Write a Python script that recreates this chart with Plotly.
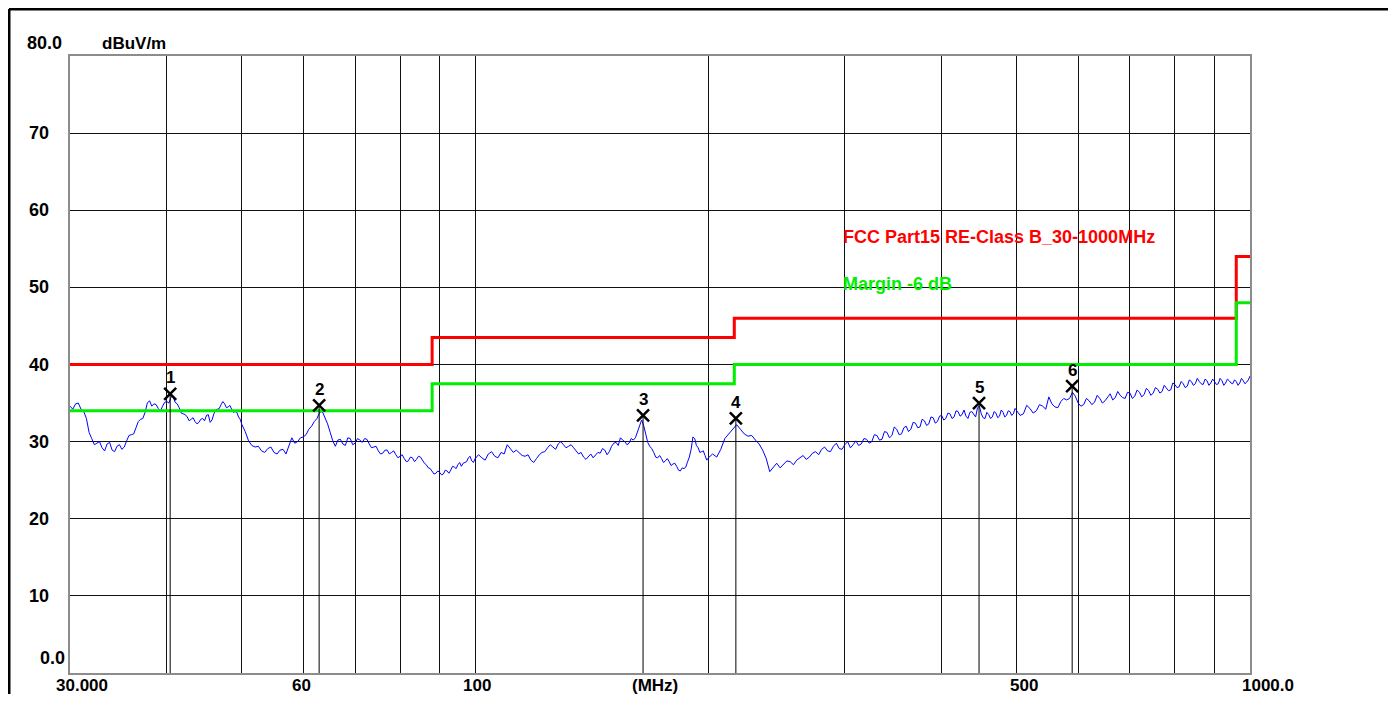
import math
import plotly.graph_objects as go

# ---------------- data ----------------
freq_mhz = [
    30.0, 30.5, 31.0, 31.5, 32.0, 32.5, 33.0, 33.5, 34.0, 34.5, 35.0, 35.5, 36.0, 36.5,
    37.0, 37.5, 38.0, 38.5, 39.0, 39.5, 40.0, 40.5, 41.0, 41.5, 42.0, 42.5, 43.0, 43.5,
    44.0, 44.5, 45.0, 45.5, 46.0, 46.5, 47.0, 47.5, 48.0, 48.5, 49.0, 49.5, 50.0,
    51, 52, 53, 54, 55, 56, 57, 58, 59, 60, 61, 62, 63, 64, 65, 66, 67, 68, 69, 70,
    71, 72, 73, 74, 75, 76, 77, 78, 79, 80, 81, 82, 83, 84, 85, 86, 87, 88, 89, 90,
    91, 92, 93, 94, 95, 96, 97, 98, 99, 100,
    102, 104, 106, 108, 110, 112, 114, 116, 118, 120, 122, 124, 126, 128, 130, 132,
    134, 136, 138, 140, 142, 144, 146, 148, 150, 152, 154, 156, 158, 160, 162, 164,
    166, 168, 170, 172, 174, 176, 178, 180, 182, 184, 186, 188, 190, 192, 194, 196,
    198, 200,
    205, 210, 215, 220, 225, 230, 235, 240, 245, 250, 255, 260, 265, 270, 275, 280,
    285, 290, 295, 300, 305, 310, 315, 320, 325, 330, 335, 340, 345, 350, 355, 360,
    365, 370, 375, 380, 385, 390, 395, 400, 405, 410, 415, 420, 425, 430, 435, 440,
    445, 450, 455, 460, 465, 470, 475, 480, 485, 490, 495, 500,
    510, 520, 530, 540, 550, 560, 570, 580, 590, 600, 610, 620, 630, 640, 650, 660,
    670, 680, 690, 700, 710, 720, 730, 740, 750, 760, 770, 780, 790, 800, 810, 820,
    830, 840, 850, 860, 870, 880, 890, 900, 910, 920, 930, 940, 950, 960, 970, 980,
    990, 1000,
]
level_dbuv = [
    34.6, 34.9, 34.2, 33.0, 30.4, 29.8, 29.2, 29.7, 28.9, 29.4, 29.0, 30.1, 30.9, 31.8,
    32.9, 33.8, 35.3, 34.9, 34.3, 34.6, 35.2, 35.8, 35.1, 34.4, 33.6, 33.2, 32.9, 32.6,
    32.5, 33.0, 33.4, 32.5, 33.6, 34.2, 34.8, 34.9, 34.5, 34.2, 33.9, 33.2, 32.2,
    30.1, 29.3, 28.8, 29.1, 28.6, 28.9, 28.4, 30.5, 30.0, 30.6, 31.6, 32.6, 33.8, 33.2,
    31.2, 29.4, 30.3, 29.5, 30.4, 29.8, 30.2, 30.4, 29.7, 29.3, 28.8, 28.5, 28.9, 28.6,
    28.3, 28.1, 27.8, 27.5, 27.9, 27.7, 28.0, 27.2, 26.6, 26.2, 25.9, 26.0, 25.8, 26.2,
    26.3, 26.7, 27.0, 26.8, 27.3, 27.9, 27.5, 27.8,
    27.9, 28.4, 28.1, 28.6, 29.6, 28.6, 28.5, 28.1, 27.6, 27.8, 28.6, 29.2, 29.3, 29.7,
    29.6, 29.4, 29.2, 28.4, 28.0, 28.1, 27.9, 28.6, 29.1, 28.3, 29.4, 29.9, 30.5, 30.0,
    29.8, 30.2, 31.2, 32.8, 31.0, 29.4, 28.6, 27.9, 27.8, 27.5, 27.4, 27.1, 26.8, 26.2,
    26.5, 27.4, 29.0, 30.4, 29.2, 28.7, 28.2, 27.9,
    28.0, 30.4, 31.6, 31.6, 30.7, 30.2, 28.9, 26.1, 27.2, 27.0, 27.4, 27.6, 28.2, 28.0,
    28.7, 29.0, 28.8, 29.4, 29.1, 29.6, 29.2, 30.1, 29.7, 30.3, 30.0, 30.8, 30.3, 31.2,
    30.8, 31.6, 31.0, 32.0, 31.6, 32.4, 31.9, 32.7, 32.3, 33.1, 32.6, 33.4, 33.0, 33.6,
    33.2, 33.9, 33.5, 33.3, 33.8, 33.5, 34.4, 33.6, 33.0, 33.5, 33.2, 33.7, 33.3, 33.8,
    33.4, 33.9, 33.6, 34.0,
    33.6, 34.3, 34.0, 34.6, 35.8, 34.5, 35.2, 35.4, 36.4, 35.0, 34.8, 35.3, 35.1, 35.6,
    35.3, 36.2, 35.7, 36.0, 35.6, 36.3, 35.9, 36.4, 36.1, 36.6, 36.3, 36.8, 36.5, 37.0,
    36.7, 37.4, 37.1, 37.5, 37.2, 37.8, 37.5, 37.8, 37.4, 37.9, 37.6, 37.8, 37.5, 37.9,
    37.6, 37.9, 37.5, 37.8, 37.6, 37.9, 37.7, 38.5,
]

# extra sweep samples read between the points above (noise detail)
freq_mid_mhz = [
    30.25, 30.75, 31.25, 31.75, 32.25, 32.75, 33.25, 33.75, 34.25, 34.75, 35.25, 35.75,
    36.25, 36.75, 37.25, 37.75, 38.25, 38.75, 39.25, 39.75, 40.25, 40.75, 41.25, 41.75,
    42.25, 42.75, 43.25, 43.75, 44.25, 44.75, 45.25, 45.75, 46.25, 46.75, 47.25, 47.75,
    48.25, 48.75, 49.25, 49.75,
    50.5, 51.5, 52.5, 53.5, 54.5, 55.5, 56.5, 57.5, 58.5, 59.5, 60.5, 61.5, 62.5, 63.5,
    64.5, 65.5, 66.5, 67.5, 68.5, 69.5, 70.5, 71.5, 72.5, 73.5, 74.5, 75.5, 76.5, 77.5,
    78.5, 79.5, 80.5, 81.5, 82.5, 83.5, 84.5, 85.5, 86.5, 87.5, 88.5, 89.5, 90.5, 91.5,
    92.5, 93.5, 94.5, 95.5, 96.5, 97.5, 98.5, 99.5,
    101, 103, 105, 107, 109, 111, 113, 115, 117, 119, 121, 123, 125, 127, 129, 131, 133,
    135, 137, 139, 141, 143, 145, 147, 149, 151, 153, 155, 157, 159, 161, 163, 165, 167,
    169, 171, 173, 175, 177, 179, 181, 183, 185, 187, 189, 191, 193, 195, 197, 199,
    202.5, 207.5, 212.5, 217.5, 222.5, 227.5, 232.5, 237.5, 242.5, 247.5, 252.5, 257.5,
    262.5, 267.5, 272.5, 277.5, 282.5, 287.5, 292.5, 297.5, 302.5, 307.5, 312.5, 317.5,
    322.5, 327.5, 332.5, 337.5, 342.5, 347.5, 352.5, 357.5, 362.5, 367.5, 372.5, 377.5,
    382.5, 387.5, 392.5, 397.5, 402.5, 407.5, 412.5, 417.5, 422.5, 427.5, 432.5, 437.5,
    442.5, 447.5, 452.5, 457.5, 462.5, 467.5, 472.5, 477.5, 482.5, 487.5, 492.5, 497.5,
    505, 515, 525, 535, 545, 555, 565, 575, 585, 595, 605, 615, 625, 635, 645, 655, 665,
    675, 685, 695, 705, 715, 725, 735, 745, 755, 765, 775, 785, 795, 805, 815, 825, 835,
    845, 855, 865, 875, 885, 895, 905, 915, 925, 935, 945, 955, 965, 975, 985, 995,
]
level_mid_dbuv = [
    34.2, 35.0, 33.9, 31.2, 29.6, 30.0, 28.8, 29.9, 28.7, 29.6, 29.3, 30.8,
    31.0, 32.6, 33.0, 35.0, 34.6, 34.8, 34.0, 35.1, 35.0, 35.9, 34.9, 33.7,
    33.5, 32.7, 33.1, 32.3, 32.9, 32.7, 33.5, 32.8, 34.1, 34.3, 35.2, 34.4,
    34.7, 33.8, 33.8, 32.9,
    31.3, 29.5, 29.4, 28.6, 29.3, 28.4, 29.0, 29.6, 29.8, 30.5, 30.9, 32.0, 33.0, 33.9,
    32.3, 30.1, 30.2, 29.7, 30.5, 29.6, 30.4, 29.9, 30.3, 29.2, 29.4, 28.4, 28.9, 28.4,
    28.8, 27.9, 28.3, 27.4, 28.0, 27.4, 28.1, 27.5, 27.0, 26.5, 25.8, 26.2, 25.7, 26.3,
    25.9, 26.8, 26.5, 27.3, 27.2, 27.4, 28.1, 27.3,
    28.3, 27.6, 28.7, 27.9, 28.4, 29.1, 28.9, 28.2, 28.3, 27.3, 28.3, 28.7, 29.6, 29.0,
    30.0, 29.2, 29.6, 28.8, 28.6, 27.7, 28.4, 28.2, 28.5, 28.9, 28.7, 29.8, 29.5, 30.2,
    29.6, 30.4, 30.5, 32.0, 32.1, 29.9, 29.1, 28.0, 28.2, 27.3, 27.8, 26.9, 27.2, 26.3,
    26.6, 26.7, 28.0, 30.6, 29.5, 28.6, 28.8, 27.6,
    28.4, 29.0, 31.0, 32.2, 31.0, 30.8, 29.7, 27.8, 26.6, 26.6, 27.5, 27.0,
    27.9, 27.7, 28.5, 28.3, 29.3, 28.7, 29.8, 29.0, 30.0, 29.6, 29.5, 30.4,
    29.8, 30.9, 30.2, 31.3, 30.5, 31.9, 30.9, 31.8, 31.3, 32.5, 31.8, 32.9,
    32.1, 33.2, 32.4, 33.3, 32.8, 33.7, 33.0, 34.0, 33.3, 34.1, 33.0, 33.9,
    33.2, 34.6, 33.1, 33.8, 33.0, 33.9, 33.1, 34.1, 33.2, 34.0, 33.4, 34.3,
    33.4, 34.7, 33.7, 34.8, 34.2, 34.9, 34.4, 35.6, 35.6, 35.9, 34.6, 35.6, 34.8, 36.0,
    35.0, 35.8, 35.4, 36.5, 35.7, 36.4, 35.6, 36.7, 35.8, 36.9, 36.0, 37.0, 36.3, 37.3,
    36.6, 37.6, 37.0, 37.8, 37.0, 38.0, 37.3, 38.2, 37.5, 38.1, 37.3, 38.1, 37.4, 38.2,
    37.3, 38.1, 37.6, 38.0, 37.3, 38.2, 37.5, 38.0,
]

limit_freq = [30, 88, 216, 960, 1000]
limit_level = [40, 43.5, 46, 54, 54]
margin_level = [34, 37.5, 40, 48, 48]

marker_freq = [40.4, 62.9, 164.7, 217.0, 447.0, 589.5]
marker_level = [36.2, 34.7, 33.4, 33.0, 35.0, 37.2]
marker_label = ["1", "2", "3", "4", "5", "6"]

grid_freq = [40, 50, 60, 70, 80, 90, 100, 200, 300, 400, 500, 600, 700, 800, 900]
grid_level = [10, 20, 30, 40, 50, 60, 70]

xtick_vals = [30, 60, 100, 500, 1000]
xtick_text = ["30.000", "60", "100", "500", "1000.0"]
xtick_shift = [12, -2, 2, 7, 18]

ytick_vals = [0, 10, 20, 30, 40, 50, 60, 70, 80]
ytick_text = ["0.0", "10", "20", "30", "40", "50", "60", "70", "80.0"]

limit_name = "FCC Part15 RE-Class B_30-1000MHz"
margin_name = "Margin -6 dB"
y_unit = "dBuV/m"
x_unit = "(MHz)"

# ---------------- figure ----------------
FONT = "Liberation Sans, Arial, sans-serif"
fig = go.Figure()

sweep = sorted(zip(freq_mhz + freq_mid_mhz, level_dbuv + level_mid_dbuv))
fig.add_trace(go.Scatter(x=[p[0] for p in sweep], y=[p[1] for p in sweep], mode="lines",
                         line=dict(color="#0000ff", width=1), showlegend=False))

fig.add_trace(go.Scatter(x=limit_freq, y=limit_level, mode="lines", line_shape="hv",
                         line=dict(color="#ff0000", width=3), showlegend=False))
fig.add_trace(go.Scatter(x=limit_freq, y=margin_level, mode="lines", line_shape="hv",
                         line=dict(color="#00ee00", width=3), showlegend=False))

# marker vertical lines
vx, vy = [], []
for f, lv in zip(marker_freq, marker_level):
    vx += [f, f, None]
    vy += [lv, 0, None]
fig.add_trace(go.Scatter(x=vx, y=vy, mode="lines", line=dict(color="black", width=1),
                         showlegend=False))
fig.add_trace(go.Scatter(x=marker_freq, y=marker_level, mode="markers",
                         marker=dict(symbol="x-thin", size=12, color="black",
                                     line=dict(width=2.5, color="black")),
                         showlegend=False))

annotations = []
for f, lv, t in zip(marker_freq, marker_level, marker_label):
    annotations.append(dict(x=math.log10(f), y=lv, xref="x", yref="y", text=f"<b>{t}</b>",
                            showarrow=False, yshift=16,
                            font=dict(family=FONT, size=17, color="black")))

for v, t, s in zip(xtick_vals, xtick_text, xtick_shift):
    annotations.append(dict(x=math.log10(v), y=0, xref="x", yref="y", text=f"<b>{t}</b>",
                            showarrow=False, yshift=-12, xshift=s, xanchor="center",
                            yanchor="middle", font=dict(family=FONT, size=17, color="black")))
annotations.append(dict(x=0.4958, y=0, xref="paper", yref="y", text=f"<b>{x_unit}</b>",
                        showarrow=False, yshift=-12, xanchor="center", yanchor="middle",
                        font=dict(family=FONT, size=17, color="black")))

for v, t in zip(ytick_vals, ytick_text):
    if v == 80:
        xs, ys = -45, 13
    elif v == 0:
        xs, ys = -32, 15
    else:
        xs, ys = -43, 0
    annotations.append(dict(x=0, y=v, xref="paper", yref="y", text=f"<b>{t}</b>",
                            showarrow=False, xanchor="left", yanchor="middle",
                            xshift=xs, yshift=ys,
                            font=dict(family=FONT, size=18, color="black")))
annotations.append(dict(x=0, y=80, xref="paper", yref="y", text=f"<b>{y_unit}</b>",
                        showarrow=False, xanchor="left", yanchor="middle",
                        xshift=30, yshift=13, font=dict(family=FONT, size=17, color="black")))

annotations.append(dict(x=0.6534, y=56.5, xref="paper", yref="y", text=f"<b>{limit_name}</b>",
                        showarrow=False, xanchor="left", yanchor="middle",
                        font=dict(family=FONT, size=18, color="#ff0000")))
annotations.append(dict(x=0.6534, y=50.4, xref="paper", yref="y", text=f"<b>{margin_name}</b>",
                        showarrow=False, xanchor="left", yanchor="middle",
                        font=dict(family=FONT, size=18, color="#00ee00")))

# outer window frame (top and left edges)
shapes = [
    dict(type="line", xref="paper", yref="paper", x0=-0.0517, x1=1.2, y0=1.0762, y1=1.0762,
         line=dict(color="black", width=3)),
    dict(type="line", xref="paper", yref="paper", x0=-0.0517, x1=-0.0517, y0=-0.06, y1=1.0762,
         line=dict(color="black", width=3)),
]

# page body has an 8px margin: the figure starts at (8, 8) in the window
fig.update_layout(
    width=1388, height=686,
    margin=dict(l=62, r=146, t=48, b=21),
    paper_bgcolor="white", plot_bgcolor="white",
    annotations=annotations, shapes=shapes,
    showlegend=False,
    xaxis=dict(type="log", range=[math.log10(30), math.log10(1000)],
               tickmode="array", tickvals=grid_freq, showticklabels=False, ticks="",
               showgrid=True, gridcolor="#111111", gridwidth=1, zeroline=False,
               showline=True, linecolor="#8c8c8c", linewidth=2, mirror=True),
    yaxis=dict(range=[0, 80], tickmode="array", tickvals=grid_level, showticklabels=False,
               ticks="", showgrid=True, gridcolor="#111111", gridwidth=1, zeroline=False,
               showline=True, linecolor="#8c8c8c", linewidth=2, mirror=True),
)

fig.write_html("out.html")
